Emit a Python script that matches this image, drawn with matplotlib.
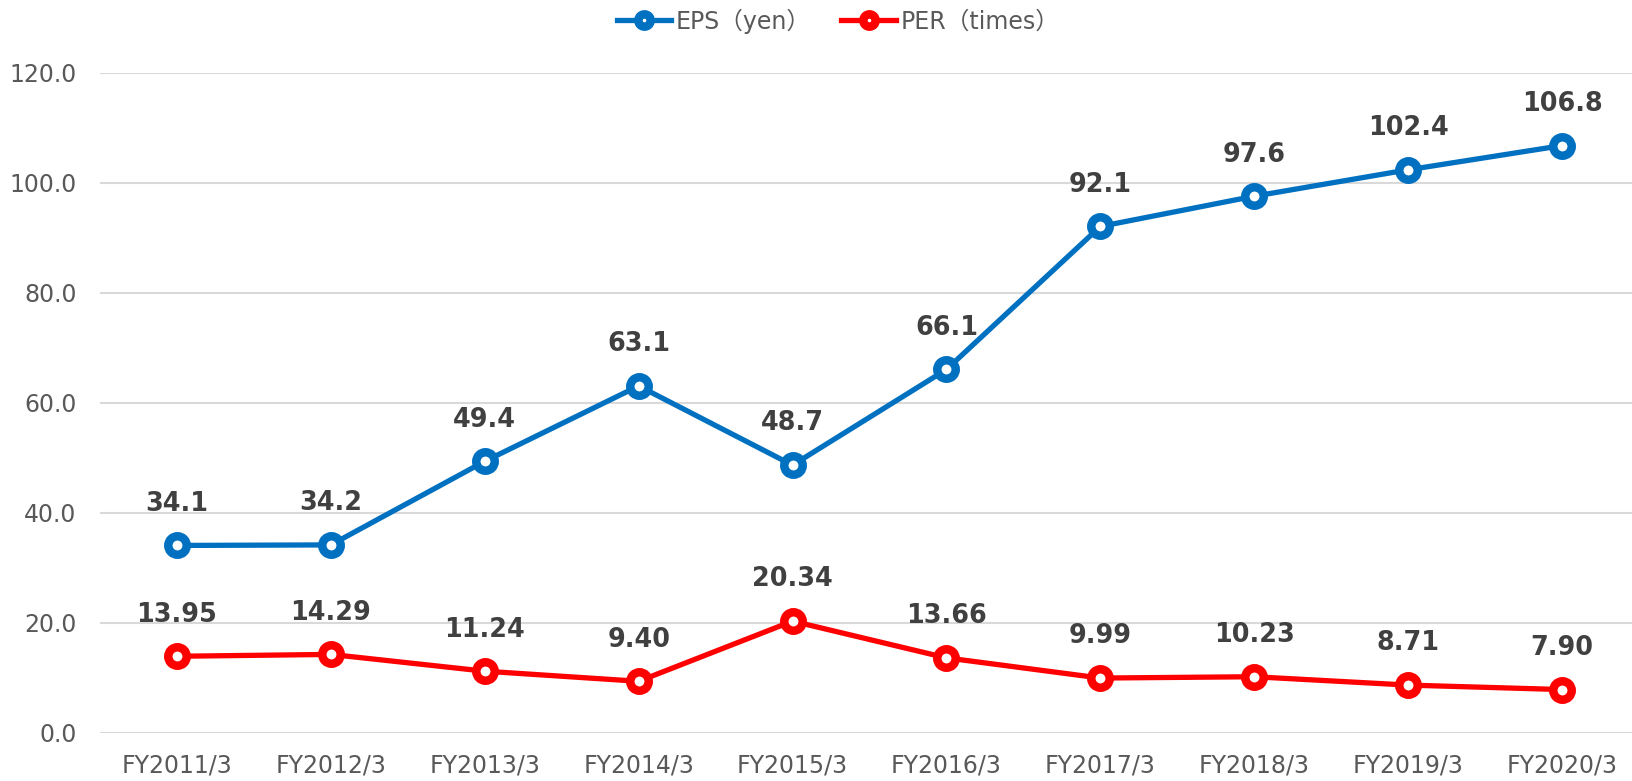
import matplotlib
matplotlib.use("Agg")
from matplotlib import pyplot as plt

years = ["FY2011/3", "FY2012/3", "FY2013/3", "FY2014/3", "FY2015/3",
         "FY2016/3", "FY2017/3", "FY2018/3", "FY2019/3", "FY2020/3"]
eps = [34.1, 34.2, 49.4, 63.1, 48.7, 66.1, 92.1, 97.6, 102.4, 106.8]
per = [13.95, 14.29, 11.24, 9.40, 20.34, 13.66, 9.99, 10.23, 8.71, 7.90]

fig = plt.figure(figsize=[16.32, 7.81], dpi=100)
W, H = 1632, 781
# axes spans x 100..1639 px, y 73..733 px (right end is cut off by figure edge)
ax = fig.add_axes([100 / W, (H - 733) / H, 1539 / W, 660 / H])

x = list(range(len(years)))
ms, mew = 13.3, 6.1
ax.plot(x, eps, "-o", color="#0070C0", lw=3.8, ms=ms, mew=mew,
        mfc="white", mec="#0070C0", label="EPS（yen）", zorder=3)
ax.plot(x, per, "-o", color="#FF0000", lw=3.8, ms=ms, mew=mew,
        mfc="white", mec="#FF0000", label="PER（times）", zorder=3)

for i, v in enumerate(eps):
    ax.annotate("{:.1f}".format(v), (i, v), xytext=(0, 30), textcoords="offset points",
                ha="center", va="center", fontsize=18.4, fontweight="bold", color="#404040")
for i, v in enumerate(per):
    ax.annotate("{:.2f}".format(v), (i, v), xytext=(0, 30), textcoords="offset points",
                ha="center", va="center", fontsize=18.4, fontweight="bold", color="#404040")

ax.set_xlim(-0.5, len(years) - 0.5)
ax.set_ylim(0, 120)
ax.set_yticks([0, 20, 40, 60, 80, 100, 120])
ax.set_yticklabels(["{:.1f}".format(t) for t in [0, 20, 40, 60, 80, 100, 120]])
ax.set_xticks(x)
ax.set_xticklabels(years)
ax.tick_params(axis="both", length=0, labelsize=17, labelcolor="#595959")
ax.tick_params(axis="x", pad=15)
ax.tick_params(axis="y", pad=17)
ax.grid(axis="y", color="#D9D9D9", lw=1.5, zorder=0)
ax.set_axisbelow(True)
for s in ax.spines.values():
    s.set_visible(False)

fig.legend(loc="center", bbox_to_anchor=(838 / W, 1 - 21 / H), ncol=2, frameon=False,
           prop={"family": ["DejaVu Sans", "Noto Sans CJK JP"], "size": 17},
           labelcolor="#595959", handlelength=2.3, handletextpad=0.2,
           columnspacing=1.3, markerscale=0.67)

fig.savefig("out.png", dpi=100)
plt.close()
